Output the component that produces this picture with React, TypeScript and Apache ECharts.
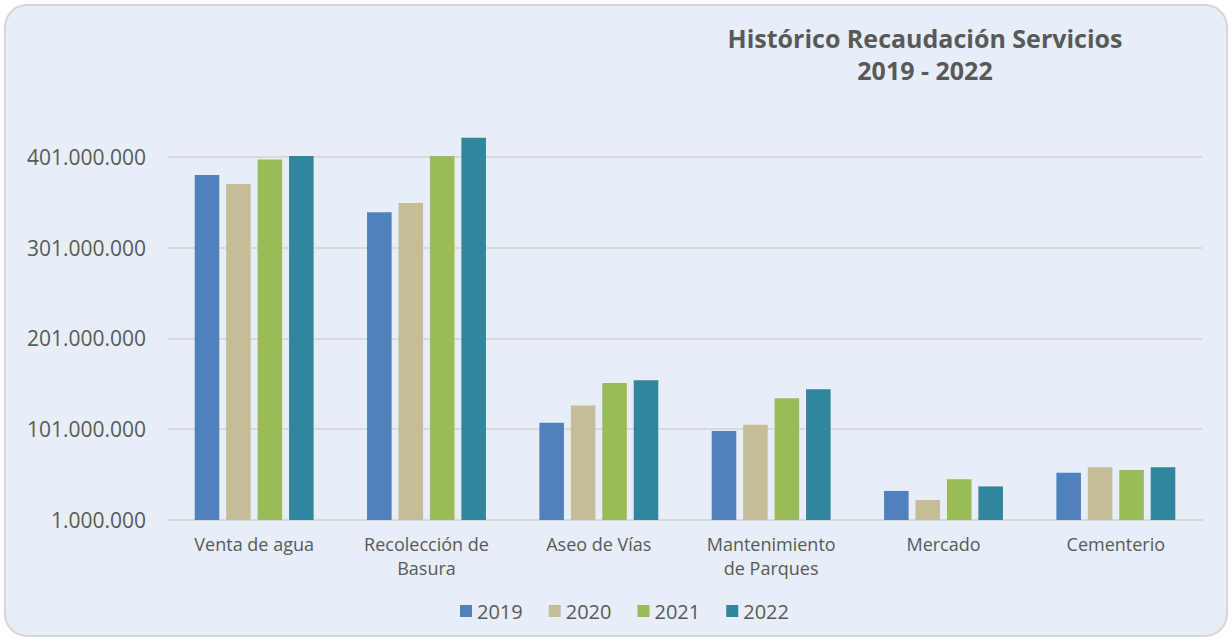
import React, { useEffect, useRef } from "react";
import * as echarts from "echarts";

const categories = ["Venta de agua", "Recolección de\nBasura", "Aseo de Vías", "Mantenimiento\nde Parques", "Mercado", "Cementerio"];
const years = ["2019", "2020", "2021", "2022"];
const v2019 = [381000000, 340000000, 108000000, 99000000, 33000000, 53000000];
const v2020 = [371000000, 350000000, 127000000, 106000000, 23000000, 59000000];
const v2021 = [398000000, 402000000, 152000000, 135000000, 46000000, 56000000];
const v2022 = [402000000, 422000000, 155000000, 145000000, 38000000, 59000000];
const BASE = 1000000;
const STEP = 100000000;
const colors = ["#4F81BD", "#C4BD97", "#9BBB59", "#31859C"];

const fmt = (n: number) => String(Math.round(n)).replace(/\B(?=(\d{3})+(?!\d))/g, ".");

export default function App() {
  const ref = useRef<HTMLDivElement>(null);
  useEffect(() => {
    if (!ref.current) return;
    const chart = echarts.init(ref.current, null, { renderer: "svg" });
    const all = [v2019, v2020, v2021, v2022];
    const font = "'Open Sans', 'Liberation Sans', sans-serif";
    chart.setOption({
      animation: false,
      graphic: [
        {
          type: "rect",
          z: -10,
          silent: true,
          shape: { x: 5, y: 5, width: 1222, height: 631, r: 22 },
          style: { fill: "#e7eef7", stroke: "#d6d6d6", lineWidth: 2 },
        },
      ],
      title: {
        text: "Histórico Recaudación Servicios\n2019 - 2022",
        left: 920,
        top: 17,
        textAlign: "center",
        textStyle: { fontFamily: font, fontWeight: "bold", fontSize: 25, color: "#595959", lineHeight: 32 },
      },
      legend: {
        bottom: 15,
        left: 455,
        itemWidth: 12,
        itemHeight: 12,
        itemGap: 26,
        icon: "rect",
        textStyle: { fontFamily: font, fontSize: 20, color: "#595959" },
        data: years,
      },
      grid: { left: 168, right: 30, top: 66, bottom: 121 },
      xAxis: {
        type: "category",
        data: categories,
        axisLine: { show: true, lineStyle: { color: "#d9d9d9", width: 2 } },
        axisTick: { show: false },
        axisLabel: { fontFamily: font, fontSize: 18, color: "#595959", margin: 12, lineHeight: 24, interval: 0 },
      },
      yAxis: {
        type: "value",
        min: 0,
        max: 5 * STEP,
        interval: STEP,
        axisLine: { show: false },
        axisTick: { show: false },
        axisLabel: {
          fontFamily: font,
          fontSize: 21,
          color: "#595959",
          margin: 22,
          showMaxLabel: false,
          formatter: (v: number) => (v >= 5 * STEP ? "" : fmt(v + BASE)),
        },
        splitLine: {
          lineStyle: { color: ["#d9d9d9", "#d9d9d9", "#d9d9d9", "#d9d9d9", "#d9d9d9", "rgba(0,0,0,0)"], width: 2 },
        },
      },
      series: years.map((y, i) => ({
        name: y,
        type: "bar",
        barGap: "28%",
        barCategoryGap: "31%",
        itemStyle: { color: colors[i] },
        data: all[i].map((v) => v - BASE),
      })),
    });
    return () => chart.dispose();
  }, []);
  return <div ref={ref} style={{ position: "absolute", left: 0, top: 0, width: 1232, height: 641 }} />;
}
